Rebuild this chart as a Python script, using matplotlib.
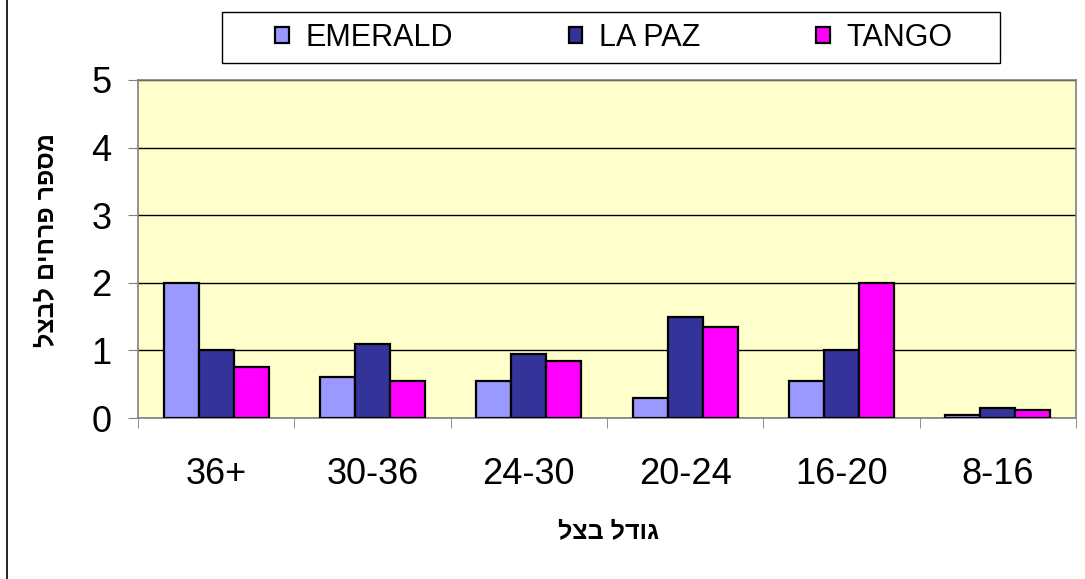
import numpy as np
import matplotlib.pyplot as plt
from matplotlib.patches import Rectangle

# ============================================================
# Data
# ============================================================

CATEGORIES = ["36+", "30-36", "24-30", "20-24", "16-20", "8-16"]
SERIES = ["EMERALD", "LA PAZ", "TANGO"]

EMERALD = [2.0, 0.61, 0.55, 0.30, 0.55, 0.04]
LA_PAZ = [1.0, 1.09, 0.95, 1.49, 1.0, 0.15]
TANGO = [0.75, 0.55, 0.84, 1.35, 2.0, 0.12]

COLORS = ["#9999FF", "#333399", "#FF00FF"]

Y_LABEL = "מספר פרחים לבצל"
X_LABEL = "גודל בצל"


def visual(text: str) -> str:
    # matplotlib has no bidi support, so Hebrew is written in visual order
    return text[::-1]


plt.rcParams.update({
    "font.family": ["Liberation Sans", "DejaVu Sans"],
})

fig = plt.figure(figsize=(10.85, 5.79), dpi=100)
ax = fig.add_axes([138 / 1085, 1 - 418 / 579, 938 / 1085, 338 / 579])
ax.set_facecolor("#FFFFCC")

x = np.arange(len(CATEGORIES))
width = 0.224
for i, (name, values, color) in enumerate(zip(SERIES, [EMERALD, LA_PAZ, TANGO], COLORS)):
    ax.bar(x + (i - 1) * width, values, width=width, color=color,
           edgecolor="black", linewidth=1.6, label=name, zorder=3)

ax.set_xlim(-0.5, len(CATEGORIES) - 0.5)
ax.set_ylim(0, 5)
ax.set_yticks(range(6))
ax.yaxis.grid(True, color="black", linewidth=1.0, zorder=1)
ax.set_axisbelow(True)

ax.set_xticks(x)
ax.set_xticklabels(CATEGORIES)
ax.set_xticks(np.arange(-0.5, len(CATEGORIES), 1), minor=True)
ax.tick_params(axis="x", which="major", length=0, pad=28, labelsize=26)
ax.tick_params(axis="x", which="minor", length=7, color="#808080", direction="out")
ax.tick_params(axis="y", length=7, color="#808080", labelsize=26, pad=12)

for side in ["left", "bottom", "right", "top"]:
    ax.spines[side].set_color("#808080")
    ax.spines[side].set_linewidth(1.2)

fig.text(46 / 1085, 1 - 240 / 579, visual(Y_LABEL), rotation=90,
         ha="center", va="center", fontsize=18, fontweight="bold")
fig.text(608 / 1085, 1 - 531 / 579, visual(X_LABEL),
         ha="center", va="center", fontsize=18, fontweight="bold")

# legend box, then frameless legend entries centred inside it
fig.add_artist(Rectangle((222 / 1085, 1 - 63 / 579), 778 / 1085, 51 / 579,
                         transform=fig.transFigure, fill=True, facecolor="white",
                         edgecolor="black", linewidth=1.0))
leg = fig.legend(
    loc="center",
    bbox_to_anchor=(614 / 1085, 1 - 37.5 / 579),
    ncol=3,
    fontsize=22,
    frameon=False,
    handlelength=0.43,
    handleheight=0.43,
    handletextpad=0.55,
    columnspacing=3.8,
    borderaxespad=0,
    borderpad=0,
)

# chart-area border at the left edge
fig.add_artist(Rectangle((7 / 1085, -0.01), 1.2, 1.2, transform=fig.transFigure,
                         fill=False, edgecolor="black", linewidth=1.2))

fig.savefig("out.png", dpi=100)
